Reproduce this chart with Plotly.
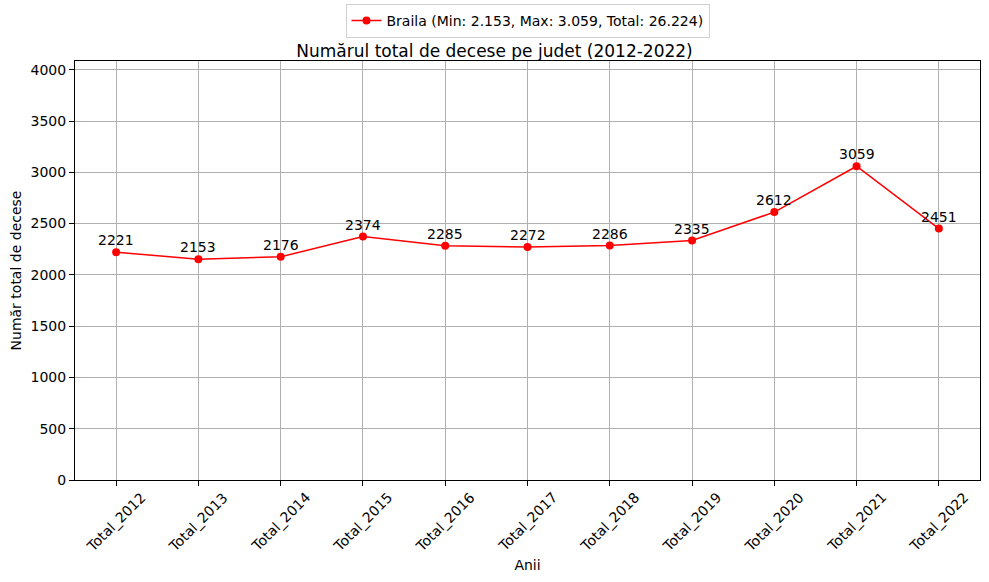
import plotly.graph_objects as go

ani = ["Total_2012", "Total_2013", "Total_2014", "Total_2015", "Total_2016", "Total_2017",
       "Total_2018", "Total_2019", "Total_2020", "Total_2021", "Total_2022"]
decese = [2221, 2153, 2176, 2374, 2285, 2272, 2286, 2335, 2612, 3059, 2451]
judet = "Braila"

fmt = lambda v: f"{v:,}".replace(",", ".")
nume = f"{judet} (Min: {fmt(min(decese))}, Max: {fmt(max(decese))}, Total: {fmt(sum(decese))})"

fnt = "DejaVu Sans"
fs = 14

fig = go.Figure()
fig.add_trace(go.Scatter(
    x=ani, y=decese, mode="lines+markers", name=nume,
    line=dict(color="red", width=1.5),
    marker=dict(color="red", size=8),
))

# value labels above points
for a, v in zip(ani, decese):
    fig.add_annotation(x=a, y=v, text=str(v), showarrow=False, yshift=12,
                       font=dict(family=fnt, size=fs, color="black"))

# rotated tick labels centred on ticks (matplotlib style)
for a in ani:
    fig.add_annotation(x=a, y=0, yref="paper", text=a, showarrow=False, textangle=-45,
                       xanchor="center", yanchor="top", yshift=-7,
                       font=dict(family=fnt, size=fs, color="black"))

axis_common = dict(
    showline=True, linecolor="black", linewidth=1, mirror=True,
    ticks="outside", ticklen=5, tickcolor="black",
    showgrid=True, gridcolor="#b0b0b0", gridwidth=1,
    tickfont=dict(family=fnt, size=fs, color="black"),
    zeroline=False, automargin=False,
)

fig.update_layout(
    width=989, height=582,
    paper_bgcolor="white", plot_bgcolor="white",
    margin=dict(l=75, r=9, t=61, b=102),
    font=dict(family=fnt, size=fs, color="black"),
    title=dict(text="Numărul total de decese pe judet (2012-2022)", x=0.5, xanchor="center",
               y=1 - 51 / 582, yanchor="middle", font=dict(family=fnt, size=17)),
    showlegend=True,
    legend=dict(x=0.5, xanchor="center", y=1 - 21 / 582, yref="container", yanchor="middle",
                orientation="h", bordercolor="#d0d0d0", borderwidth=1,
                font=dict(family=fnt, size=fs)),
    xaxis=dict(axis_common, range=[-0.5, 10.5], showticklabels=False,
               title=dict(text="Anii", font=dict(family=fnt, size=fs), standoff=75)),
    yaxis=dict(axis_common, range=[0, 4085], dtick=500,
               title=dict(text="Număr total de decese", font=dict(family=fnt, size=fs), standoff=5)),
)

fig.write_html("out.html", config={"displayModeBar": False},
               post_script="document.body.style.margin='0';")
